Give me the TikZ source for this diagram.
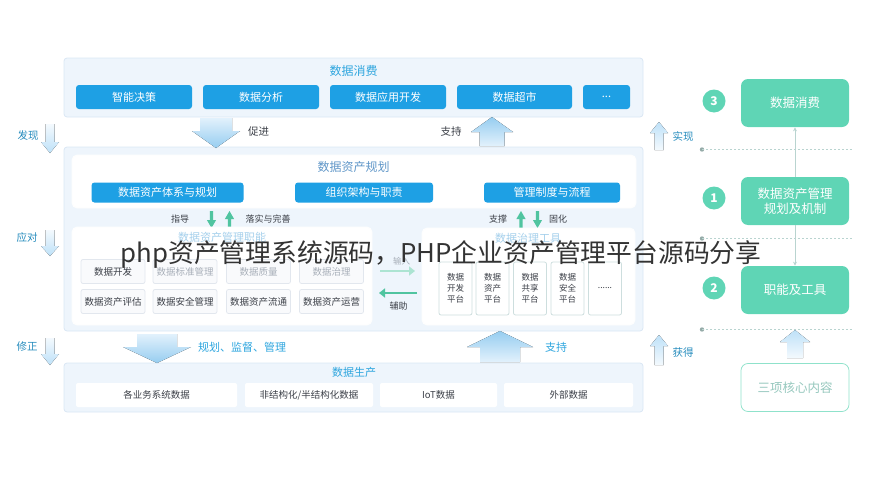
\documentclass[tikz,border=0pt]{standalone}
\usepackage{fontspec}
\setmainfont{Noto Sans CJK SC}
\usetikzlibrary{arrows.meta}

\definecolor{bandfill}{RGB}{238,245,252}
\definecolor{bandline}{RGB}{218,231,244}
\definecolor{btnblue}{RGB}{30,160,228}
\definecolor{titleblue}{RGB}{45,165,222}
\definecolor{plantitle}{RGB}{95,150,200}
\definecolor{fadeblue}{RGB}{165,208,236}
\definecolor{fadegrey}{RGB}{168,175,185}
\definecolor{textgrey}{RGB}{60,64,72}
\definecolor{cellfill}{RGB}{249,250,252}
\definecolor{cellline}{RGB}{226,231,238}
\definecolor{toolline}{RGB}{205,222,222}
\definecolor{mint}{RGB}{95,213,181}
\definecolor{mintdark}{RGB}{80,196,160}
\definecolor{mintlight}{RGB}{172,228,210}
\definecolor{coretext}{RGB}{150,200,190}
\definecolor{linkgrey}{RGB}{185,212,208}
\definecolor{tipblue}{RGB}{150,205,240}
\definecolor{tailblue}{RGB}{226,241,252}
\definecolor{sidetip}{RGB}{190,225,248}

\tikzset{every picture/.style={line width=0.75pt}}
\tikzset{
  band/.style={fill=bandfill, draw=bandline, rounded corners=3, inner sep=0, outer sep=0},
  panel/.style={fill=white, draw=white!95!bandline, rounded corners=5, inner sep=0, outer sep=0},
  bandtitle/.style={text=titleblue, inner sep=0.75pt, font=\fontsize{12}{14}\selectfont},
  bluebtn/.style={fill=btnblue, text=white, rounded corners=3, inner sep=0, minimum height=24,
    font=\fontsize{11}{13}\selectfont},
  cellbox/.style={fill=cellfill, draw=cellline, rounded corners=2, inner sep=0,
    minimum width=64, minimum height=24, text=textgrey, font=\fontsize{9.5}{11}\selectfont},
  toolbox/.style={fill=white, draw=toolline, rounded corners=2, inner sep=0, align=center,
    minimum width=33, minimum height=53, text=textgrey, font=\fontsize{8.5}{11}\selectfont},
  srcbox/.style={fill=white, rounded corners=2, inner sep=0, minimum height=24,
    text=textgrey, font=\fontsize{9.5}{11}\selectfont},
  smalllabel/.style={text=textgrey, inner sep=0.75pt, font=\fontsize{9}{11}\selectfont},
  bluelabel/.style={text=titleblue, inner sep=0.75pt, font=\fontsize{11}{13}\selectfont},
  sidelabel/.style={text=titleblue!85!black, inner sep=0.75pt, font=\fontsize{10.5}{12}\selectfont},
  greenbox/.style={fill=mint, text=white, rounded corners=7, inner sep=0, align=center,
    minimum width=108, minimum height=48, font=\fontsize{12.5}{15}\selectfont},
  corebox/.style={fill=white, draw=mint!70, rounded corners=7, inner sep=0, text=coretext,
    minimum width=108, minimum height=48, font=\fontsize{12.5}{15}\selectfont},
  numdot/.style={circle, fill=mint, text=white, inner sep=0, minimum size=23,
    font=\bfseries\fontsize{12}{14}\selectfont},
  tipdown/.style={top color=tailblue, bottom color=tipblue},
  tipup/.style={top color=tipblue, bottom color=tailblue},
  sidedown/.style={top color=white!60!tailblue, bottom color=sidetip},
  sideup/.style={top color=sidetip, bottom color=white!60!tailblue},
  flowline/.style={line width=2.6pt, -{Triangle[length=6pt,width=9pt]}},
  linkline/.style={draw=linkgrey, line width=0.8pt, -{Stealth[length=4pt,width=4pt]}},
  sepline/.style={draw=linkgrey, line width=0.9pt, dash pattern=on 2pt off 2pt},
  watermark/.style={text=black!80, inner sep=0, font=\fontsize{25.8}{28}\selectfont}
}

% block arrow: [style]{x}{tail y}{head base y}{tip y}{shaft half}{head half}
\newcommand{\fatarrow}[7][]{%
  \fill[#1] (#2-#6,#3) -- (#2+#6,#3) -- (#2+#6,#4) -- (#2+#7,#4) -- (#2,#5)
    -- (#2-#7,#4) -- (#2-#6,#4) -- cycle;}

\begin{document}
\begin{tikzpicture}[x=1pt,y=1pt,yscale=-1,xscale=1]
\useasboundingbox (0,0) rectangle (879,490);

%% three bands on the left
\node[band, minimum width=579, minimum height=59] (consume) at (353.5,87.5) {};
\node[band, minimum width=579, minimum height=184] (asset) at (353.5,239) {};
\node[band, minimum width=579, minimum height=49] (produce) at (353.5,387.5) {};

%% data consumption
\node[bandtitle] (consumetitle) at (353.5,71) {数据消费};
\node[bluebtn, minimum width=116] (decide) at (134,97) {智能决策};
\node[bluebtn, minimum width=116] (analyse) at (261,97) {数据分析};
\node[bluebtn, minimum width=116] (appdev) at (388,97) {数据应用开发};
\node[bluebtn, minimum width=115] (market) at (514.5,97) {数据超市};
\node[bluebtn, minimum width=47] (moreapp) at (606.5,97) {...};

%% arrows between consumption and assets
\fatarrow[tipdown]{216}{118}{131}{148}{16}{24}
\node[smalllabel, font=\fontsize{10.5}{12}\selectfont] (promote) at (258.5,132) {促进};
\fatarrow[tipup]{492}{146}{132}{117}{12.5}{21}
\node[smalllabel, font=\fontsize{10.5}{12}\selectfont] (supportup) at (451,132) {支持};

%% asset planning
\node[panel, minimum width=564, minimum height=53] (plan) at (354,181.5) {};
\node[bandtitle, text=plantitle] (plantitle) at (353.5,167) {数据资产规划};
\node[bluebtn, minimum width=152, minimum height=20] (system) at (167.5,192.5) {数据资产体系与规划};
\node[bluebtn, minimum width=138, minimum height=20] (organise) at (364,192.5) {组织架构与职责};
\node[bluebtn, minimum width=136, minimum height=20] (rules) at (552,192.5) {管理制度与流程};

\node[smalllabel] (guide) at (180,219) {指导};
\fatarrow[fill=mintdark]{211.5}{211}{220}{228}{1.6}{4.6}
\fatarrow[fill=mintdark]{229.5}{228}{219}{211}{1.6}{4.6}
\node[smalllabel] (improve) at (268,219) {落实与完善};
\node[smalllabel] (prop) at (498,219.5) {支撑};
\fatarrow[fill=mintdark]{521}{228}{219}{211}{1.6}{4.6}
\fatarrow[fill=mintdark]{537.5}{211}{220}{228}{1.6}{4.6}
\node[smalllabel] (fix) at (558,219.5) {固化};

%% management functions
\node[panel, minimum width=300, minimum height=98] (duties) at (222,276) {};
\node[bandtitle, text=fadeblue, font=\fontsize{11}{13}\selectfont] (dutytitle) at (222,237) {数据资产管理职能};
\node[cellbox] (develop) at (113,271.5) {数据开发};
\node[cellbox, text=fadegrey] (standard) at (185,271.5) {数据标准管理};
\node[cellbox, text=fadegrey] (quality) at (258.5,271.5) {数据质量};
\node[cellbox, text=fadegrey] (govern) at (331.5,271.5) {数据治理};
\node[cellbox] (evaluate) at (113,301.5) {数据资产评估};
\node[cellbox] (security) at (185,301.5) {数据安全管理};
\node[cellbox] (circulate) at (258.5,301.5) {数据资产流通};
\node[cellbox] (operate) at (331.5,301.5) {数据资产运营};

%% input / assist
\node[smalllabel, text=fadegrey, font=\fontsize{8.5}{10}\selectfont] (input) at (401.5,261.5) {输入};
\coordinate (inA) at (380,271);
\coordinate (inB) at (415,271);
\draw[flowline, draw=mintlight] (inA) -- (inB);
\coordinate (helpA) at (417,293);
\coordinate (helpB) at (379,293);
\draw[flowline, draw=mintdark] (helpA) -- (helpB);
\node[smalllabel] (assist) at (398.5,306) {辅助};

%% governance tools
\node[panel, minimum width=213, minimum height=97] (tools) at (528.5,276.5) {};
\node[bandtitle, text=fadeblue, font=\fontsize{11}{13}\selectfont] (tooltitle) at (528,238) {数据治理工具};
\node[toolbox] (devplat) at (455.5,288.5) {数据\\开发\\平台};
\node[toolbox] (assetplat) at (492.5,288.5) {数据\\资产\\平台};
\node[toolbox] (shareplat) at (530,288.5) {数据\\共享\\平台};
\node[toolbox] (safeplat) at (567.5,288.5) {数据\\安全\\平台};
\node[toolbox] (moreplat) at (605,288.5) {......};

%% arrows between assets and production
\fatarrow[tipdown]{157}{334}{347}{363}{20}{34}
\node[bluelabel] (oversee) at (242,347) {规划、监督、管理};
\fatarrow[tipup]{500}{362}{347}{331}{20}{33}
\node[bluelabel] (supportdown) at (556,347) {支持};

%% data production
\node[bandtitle, font=\fontsize{11}{13}\selectfont] (producetitle) at (354,372.5) {数据生产};
\node[srcbox, minimum width=161] (business) at (156.5,395) {各业务系统数据};
\node[srcbox, minimum width=128] (unstruct) at (309,395) {非结构化/半结构化数据};
\node[srcbox, minimum width=117] (iot) at (438.5,395) {IoT数据};
\node[srcbox, minimum width=129] (external) at (568.5,395) {外部数据};

%% side arrows left
\fatarrow[sidedown]{50}{124}{142}{153}{4.5}{9}
\node[sidelabel] (discover) at (28,136) {发现};
\fatarrow[sidedown]{50}{230}{246}{256}{4.5}{9}
\node[sidelabel] (respond) at (27,238) {应对};
\fatarrow[sidedown]{50}{338}{354}{365}{4.5}{9}
\node[sidelabel] (correct) at (27,347) {修正};

%% side arrows right
\fatarrow[sideup]{659}{150}{133}{122}{4.5}{9}
\node[sidelabel] (realise) at (683,136) {实现};
\fatarrow[sideup]{659}{365}{346}{335}{4.5}{9}
\node[sidelabel] (obtain) at (683,353) {获得};

%% right column
\node[greenbox] (usebox) at (795,103) {数据消费};
\node[greenbox] (planbox) at (795,201) {数据资产管理\\规划及机制};
\node[greenbox] (toolbox2) at (795,290) {职能及工具};
\node[corebox] (core) at (795,387.5) {三项核心内容};
\node[numdot] (three) at (714,101) {3};
\node[numdot] (one) at (714,198) {1};
\node[numdot] (two) at (714,288) {2};

\draw[linkline] (planbox.north) -- (usebox.south);
\draw[linkline] (planbox.south) -- (toolbox2.north);

\coordinate (sepA) at (702,149.5);
\coordinate (sepB) at (702,238.5);
\coordinate (sepC) at (702,329.5);
\foreach \s in {sepA,sepB,sepC}{
  \fill[linkgrey!80!black] (\s) circle (2.2);
  \draw[sepline] (\s) -- ++(150,0);
}
\fatarrow[sideup]{795}{358}{342}{330}{8}{15}

%% title over the picture
\node[watermark] (banner) at (441,254) {php资产管理系统源码，PHP企业资产管理平台源码分享};

\end{tikzpicture}
\end{document}
